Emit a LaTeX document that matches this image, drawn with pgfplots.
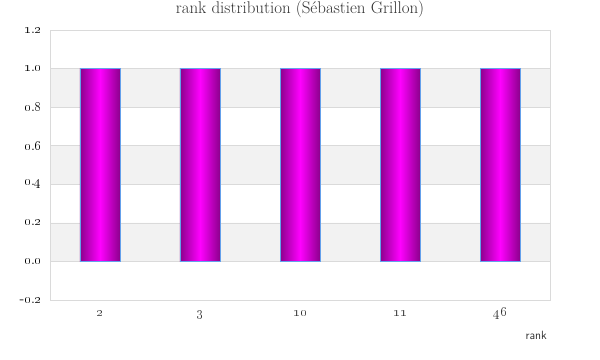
\documentclass[border=0pt]{standalone}
\usepackage{pgfplots}
\pgfplotsset{compat=1.18}
\definecolor{darkmag}{RGB}{140,0,140}
\definecolor{brightmag}{RGB}{255,0,255}
\definecolor{bandgray}{RGB}{242,242,242}
\definecolor{gridgray}{RGB}{218,218,218}
\definecolor{barborder}{RGB}{100,160,235}
\definecolor{textgray}{RGB}{50,50,50}
\newcommand\os[1]{\oldstylenums{#1}}
\pgfplotsset{magbar/.style={ybar, bar width=40bp, bar shift=0pt, draw=barborder, line width=0.6bp,
    left color=darkmag, right color=darkmag, middle color=brightmag}}
\begin{document}
\begin{tikzpicture}
\begin{axis}[
  set layers,
  at={(0,0)}, anchor=south west,
  scale only axis, width=500bp, height=270bp,
  xmin=-0.5, xmax=4.5, ymin=-0.2, ymax=1.2,
  xtick={0,1,2,3,4},
  xticklabels={\os{2},\os{3},\os{10},\os{11},\os{46}},
  ytick={-0.2,0,0.2,0.4,0.6,0.8,1.0,1.2},
  yticklabels={-\os{0}.\os{2},\os{0}.\os{0},\os{0}.\os{2},\os{0}.\os{4},\os{0}.\os{6},\os{0}.\os{8},\os{1}.\os{0},\os{1}.\os{2}},
  major tick length=0pt,
  axis line style={gridgray, line width=0.8bp},
  ymajorgrids, grid style={gridgray, line width=0.6bp},
  ticklabel style={font=\fontsize{14.5}{16}\selectfont, inner sep=0pt},
  yticklabel style={anchor=east, xshift=-8bp, text=black},
  xticklabel style={anchor=base, yshift=-16bp, text=textgray},
  xlabel={rank},
  xlabel style={at={(rel axis cs:1,0)}, anchor=base east, inner sep=0pt, xshift=-3bp, yshift=-39bp, font=\sffamily\fontsize{12}{14}\selectfont, text=textgray},
  title={rank distribution (Sébastien Grillon)},
  title style={at={(axis description cs:0.5,1)}, anchor=base, inner sep=0pt, yshift=11bp, font=\fontsize{17}{20}\selectfont, text=textgray},
]
\addplot[draw=none, fill=bandgray, mark=none, on layer=axis background, forget plot]
  coordinates {(-0.5,0) (4.5,0) (4.5,0.2) (-0.5,0.2) (-0.5,0)};
\addplot[draw=none, fill=bandgray, mark=none, on layer=axis background, forget plot]
  coordinates {(-0.5,0.4) (4.5,0.4) (4.5,0.6) (-0.5,0.6) (-0.5,0.4)};
\addplot[draw=none, fill=bandgray, mark=none, on layer=axis background, forget plot]
  coordinates {(-0.5,0.8) (4.5,0.8) (4.5,1.0) (-0.5,1.0) (-0.5,0.8)};
\addplot[magbar] coordinates {(0,1)};
\addplot[magbar] coordinates {(1,1)};
\addplot[magbar] coordinates {(2,1)};
\addplot[magbar] coordinates {(3,1)};
\addplot[magbar] coordinates {(4,1)};
\end{axis}
\path (-50bp,-60bp) rectangle (550bp,300bp);
\end{tikzpicture}
\end{document}
